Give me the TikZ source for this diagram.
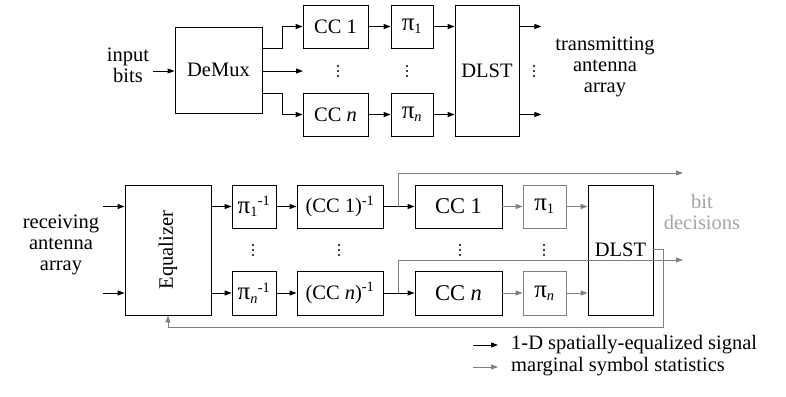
\documentclass[tikz,border=0pt]{standalone}
\usepackage{fontspec}
\setmainfont{Liberation Serif}
\usetikzlibrary{arrows.meta, positioning, calc}
\definecolor{statgray}{RGB}{128,128,128}
\definecolor{decgray}{RGB}{165,165,165}
\newcommand\perm{{\fontsize{25}{25}\selectfont π}}

\begin{document}
\begin{tikzpicture}[x=1pt, y=-1pt,
    font=\fontsize{20.5}{21}\selectfont,
    blk/.style={draw, line width=0.9pt, inner sep=0pt, align=center},
    gblk/.style={blk, draw=statgray},
    arr/.style={line width=0.9pt, -{Triangle[length=7pt,width=5pt]}},
    garr/.style={arr, statgray},
    big/.style={font=\fontsize{22.5}{23}\selectfont}]
  \useasboundingbox (0,0) rectangle (786,396);

  % transmitter
  \node[align=center] (inbits) at (128,65) {input\\bits};
  \node[blk, minimum width=87pt, minimum height=86pt] (demux) at (218.5,70) {DeMux};
  \node[blk, minimum width=65pt, minimum height=43pt] (cc1) at (335.5,26.5) {CC 1};
  \node[blk, minimum width=65pt, minimum height=43pt] (ccn) at (335.5,114.5) {CC \textit{n}};
  \node[blk, minimum width=42pt, minimum height=43pt] (pi1) at (412,26.5) {\perm\textsubscript{1}};
  \node[blk, minimum width=42pt, minimum height=43pt] (pin) at (412,114.5) {\perm\textsubscript{\textit{n}}};
  \node[blk, minimum width=64pt, minimum height=131pt] (dlst) at (487,70.5) {DLST};
  \node[align=center] (txarr) at (605,67) {transmitting\\antenna\\array};
  \coordinate (midin) at (153,71);
  \coordinate (midout) at (303,71);

  \draw[arr] (midin) -- (midin -| demux.west);
  \draw[arr] ([yshift=22pt]demux.east) -- ++(20,0) |- (cc1.west);
  \draw[arr] ([yshift=-23pt]demux.east) -- ++(20,0) |- (ccn.west);
  \draw[arr] (midout -| demux.east) -- (midout);
  \draw[arr] (cc1) -- (pi1);
  \draw[arr] (ccn) -- (pin);
  \draw[arr] (pi1.east) -- (pi1.east -| dlst.west);
  \draw[arr] (pin.east) -- (pin.east -| dlst.west);
  \draw[arr] (dlst.east |- cc1) -- ++(22,0);
  \draw[arr] (dlst.east |- ccn) -- ++(22,0);

  % receiver
  \node[align=center] (rxarr) at (61,245) {receiving\\antenna\\array};
  \node[blk, minimum width=86pt, minimum height=130pt] (eq) at (168,250)
    {\rotatebox{90}{Equalizer}};
  \node[blk, minimum width=44pt, minimum height=43pt] (ipi1) at (254,206.5)
    {\perm\textsubscript{1}\textsuperscript{-1}};
  \node[blk, minimum width=44pt, minimum height=44pt] (ipin) at (254,293)
    {\perm\textsubscript{\textit{n}}\textsuperscript{-1}};
  \node[blk, minimum width=86pt, minimum height=43pt] (icc1) at (340,206.5)
    {(CC 1)\textsuperscript{-1}};
  \node[blk, minimum width=86pt, minimum height=44pt] (iccn) at (340,293)
    {(CC \textit{n})\textsuperscript{-1}};
  \node[blk, big, minimum width=87pt, minimum height=43pt] (dcc1) at (458.5,206.5) {CC 1};
  \node[blk, big, minimum width=87pt, minimum height=44pt] (dccn) at (458.5,293) {CC \textit{n}};
  \node[gblk, minimum width=43pt, minimum height=43pt] (dpi1) at (544.5,206.5) {\perm\textsubscript{1}};
  \node[gblk, minimum width=43pt, minimum height=44pt] (dpin) at (544.5,293) {\perm\textsubscript{\textit{n}}};
  \node[blk, minimum width=65pt, minimum height=130pt] (dlst2) at (620.5,250) {DLST};
  \node[align=center, text=decgray] (bitdec) at (702,212) {bit\\decisions};
  \coordinate (rxa) at (103,206.5);
  \coordinate (rxb) at (103,293);
  \coordinate (dec1) at (683,173);
  \coordinate (dec2) at (683,260);

  % vertical dots between the branches
  \foreach \x/\y in {338/71, 407/71, 534/71,
      253/250, 339/250, 460/250, 544/250}
    \foreach \d in {-5,0,5}
      \fill (\x,\y+\d) circle (1.1pt);

  \draw[arr] (rxa) -- (rxa -| eq.west);
  \draw[arr] (rxb) -- (rxb -| eq.west);
  \draw[arr] (ipi1.west -| eq.east) -- (ipi1.west);
  \draw[arr] (ipin.west -| eq.east) -- (ipin.west);
  \draw[arr] (ipi1) -- (icc1);
  \draw[arr] (ipin) -- (iccn);
  \draw[arr] (icc1) -- (dcc1);
  \draw[arr] (iccn) -- (dccn);
  \draw[garr] ([xshift=15pt]icc1.east) |- (dec1);
  \draw[garr] ([xshift=15pt]iccn.east) |- (dec2);
  \draw[garr] (dcc1) -- (dpi1);
  \draw[garr] (dccn) -- (dpin);
  \draw[garr] (dpi1.east) -- (dpi1.east -| dlst2.west);
  \draw[garr] (dpin.east) -- (dpin.east -| dlst2.west);
  \draw[garr] ([yshift=1pt]dlst2.east) -- ++(10,0) -- ++(0,78) -| (eq.south);

  % legend
  \node[right, inner sep=2pt] (leg1) at (509,345) {1-D spatially-equalized signal};
  \node[right, inner sep=2pt] (leg2) at (509,367) {marginal symbol statistics};
  \draw[arr] ([xshift=-36pt]leg1.west) -- ([xshift=-11pt]leg1.west);
  \draw[garr] ([xshift=-36pt]leg2.west) -- ([xshift=-11pt]leg2.west);
\end{tikzpicture}
\end{document}
